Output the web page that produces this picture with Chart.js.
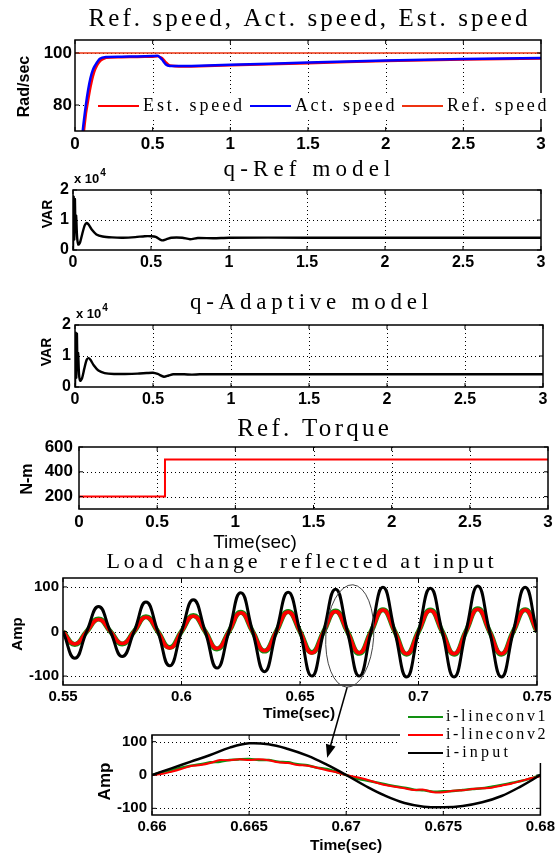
<!DOCTYPE html>
<html>
<head>
<meta charset="utf-8">
<script src="https://cdn.jsdelivr.net/npm/chart.js@4.4.0/dist/chart.umd.min.js"></script>
<style>
  body { margin: 0; background: #fff; }
  #fig { position: relative; width: 558px; height: 854px; overflow: hidden; background: #fff; }
  #fig canvas { position: absolute; left: 0; }
</style>
</head>
<body>
<div id="fig">
  <canvas id="c1" width="558" height="152" style="top:0px"></canvas>
  <canvas id="c2" width="558" height="122" style="top:152px"></canvas>
  <canvas id="c3" width="558" height="136" style="top:274px"></canvas>
  <canvas id="c4" width="558" height="143" style="top:410px"></canvas>
  <canvas id="c5" width="558" height="170" style="top:553px"></canvas>
  <canvas id="c6" width="558" height="301" style="top:553px"></canvas>
</div>
<script>
// ---- data ----
const xTicksLong = [0, 0.5, 1, 1.5, 2, 2.5, 3];

// speed (rad/sec)
const speedTime = [0, 0.03, 0.05, 0.07, 0.085, 0.1, 0.115, 0.13, 0.16, 0.2, 0.3, 0.4, 0.5, 0.535, 0.56, 0.585, 0.61, 0.7, 0.8, 1.0, 1.5, 2.0, 2.5, 3.0];
const actSpeed = [0, 45, 70, 80, 86, 90.5, 93.5, 95.3, 97.8, 98.5, 98.6, 98.7, 98.8, 98.9, 97.5, 95.6, 95.0, 95.0, 95.1, 95.5, 96.3, 97.1, 97.7, 98.1];
const estSpeed = [0, 40, 65, 76.5, 82, 87, 91, 93.8, 96.8, 98.2, 98.4, 98.5, 98.6, 98.7, 98.1, 96.4, 95.2, 94.8, 94.9, 95.3, 96.1, 96.9, 97.5, 97.9];
const refTime = [0, 3];
const refSpeed = [100, 100];
const speedTicks = [80, 100];

// reactive power (x 10^4 VAR)
const qTime = [0, 0.004, 0.008, 0.012, 0.016, 0.02, 0.026, 0.034, 0.045, 0.06, 0.075, 0.088, 0.1, 0.12, 0.15, 0.19, 0.25, 0.32, 0.4, 0.46, 0.5, 0.53, 0.57, 0.6, 0.63, 0.7, 0.75, 0.8, 0.9, 1.0, 1.5, 2.0, 2.5, 3.0];
const qRef = [0, 1.78, 0.35, 1.7, 0.6, 1.15, 0.45, 0.18, 0.25, 0.55, 0.82, 0.9, 0.85, 0.68, 0.52, 0.45, 0.42, 0.41, 0.43, 0.46, 0.46, 0.44, 0.32, 0.36, 0.41, 0.41, 0.36, 0.4, 0.39, 0.41, 0.41, 0.41, 0.41, 0.41];
const qAdapt = [0, 1.75, 0.3, 1.72, 0.55, 1.1, 0.4, 0.2, 0.28, 0.6, 0.88, 0.93, 0.87, 0.7, 0.53, 0.45, 0.42, 0.42, 0.43, 0.45, 0.46, 0.42, 0.33, 0.37, 0.41, 0.41, 0.4, 0.41, 0.41, 0.41, 0.41, 0.41, 0.41, 0.41];
const qTicks = [0, 1, 2];

// reference torque (N-m)
const torqueTime = [0, 0.55, 0.55, 3];
const torque = [200, 200, 500, 500];
const torqueTicks = [200, 400, 600];

// currents 0.55 .. 0.75 s
const loadTime = [0.55, 0.555, 0.56, 0.565, 0.57, 0.575, 0.58, 0.585, 0.59, 0.595, 0.6, 0.605, 0.61, 0.615, 0.62, 0.625, 0.63, 0.635, 0.64, 0.645, 0.65, 0.655, 0.66, 0.665, 0.67, 0.675, 0.68, 0.685, 0.69, 0.695, 0.7, 0.705, 0.71, 0.715, 0.72, 0.725, 0.73, 0.735, 0.74, 0.745, 0.75];
const inputLoad = [0, -60, 0, 56, 0, -56, 0, 66, 0, -77, 0, 71, 0, -82, 0, 87, 0, -90, 0, 88, 0, -100, 0, 95, 0, -100, 0, 99, 0, -102, 0, 97, 0, -102, 0, 102, 0, -102, 0, 99, 0];
const conv2Load = [0, -28, 0, 27, 0, -27, 0, 32, 0, -37, 0, 35, 0, -38, 0, 42, 0, -43, 0, 44, 0, -48, 0, 45, 0, -48, 0, 48, 0, -50, 0, 47, 0, -50, 0, 50, 0, -50, 0, 48, 0];
const conv1Load = [0, -29, 0, 28, 0, -28, 0, 33, 0, -36, 0, 36, 0, -39, 0, 43, 0, -44, 0, 45, 0, -47, 0, 46, 0, -49, 0, 49, 0, -51, 0, 48, 0, -51, 0, 51, 0, -51, 0, 49, 0];
const loadTicks = [0.55, 0.6, 0.65, 0.7, 0.75];
const ampTicks = [-100, 0, 100];

// zoom 0.66 .. 0.68 s
const zoomTimeIn = [0.66, 0.661, 0.662, 0.663, 0.664, 0.665, 0.666, 0.667, 0.668, 0.669, 0.67, 0.671, 0.672, 0.673, 0.674, 0.675, 0.676, 0.677, 0.678, 0.679, 0.68];
const inputZoom = [0, 20, 40, 60, 82, 95, 92, 78, 58, 31, 0, -33, -62, -84, -95, -97, -93, -82, -63, -34, 0];
const zoomTime = [0.66, 0.6605, 0.661, 0.6615, 0.662, 0.6625, 0.663, 0.6635, 0.664, 0.6645, 0.665, 0.6655, 0.666, 0.6665, 0.667, 0.6675, 0.668, 0.6685, 0.669, 0.6695, 0.67, 0.6705, 0.671, 0.6715, 0.672, 0.6725, 0.673, 0.6735, 0.674, 0.6745, 0.675, 0.6755, 0.676, 0.6765, 0.677, 0.6775, 0.678, 0.6785, 0.679, 0.6795, 0.68];
const conv1Zoom = [0, 8, 14, 22, 28, 32, 38, 40, 45, 47, 48, 45, 45, 40, 38, 32, 29, 22, 18, 9, 0, -10, -16, -22, -28, -34, -38, -44, -46, -50, -49, -48, -45, -42, -40, -35, -30, -24, -18, -10, 0];
const conv2Zoom = [0, 3, 10, 18, 27, 30, 36, 45, 44, 47, 45, 47, 44, 38, 36, 30, 28, 22, 14, 8, 0, -6, -13, -22, -30, -35, -40, -45, -44, -52, -52, -47, -46, -42, -40, -38, -32, -26, -18, -10, -4];
const zoomTicks = [0.66, 0.665, 0.67, 0.675, 0.68];

const SANS = '"Liberation Sans", Arial, sans-serif';
const SERIF = '"Liberation Serif", "DejaVu Serif", serif';

function pts(xs, ys) {
  return xs.map((x, i) => ({ x: x, y: ys[i] }));
}

function line(label, xs, ys, color, width, order, tension) {
  return {
    label: label,
    data: pts(xs, ys),
    borderColor: color,
    borderWidth: width,
    order: order,
    tension: tension,
    pointRadius: 0,
    fill: false
  };
}

// serif text spread out to a fixed width, like the wide monospace of the original
function spacedText(ctx, text, x, y, width) {
  const w0 = ctx.measureText(text).width;
  if ('letterSpacing' in ctx) {
    const ls = (width - w0) / text.length;
    ctx.letterSpacing = ls + 'px';
    ctx.fillText(text, x + (ctx.textAlign === 'center' ? ls / 2 : 0), y);
    ctx.letterSpacing = '0px';
  } else {
    ctx.save();
    ctx.translate(x, y);
    ctx.scale(width / w0, 1);
    ctx.fillText(text, 0, 0);
    ctx.restore();
  }
}

// MATLAB style box, dotted grid, titles, labels, legend
const decor = {
  id: 'decor',
  beforeDatasetsDraw(chart, args, o) {
    const { ctx, chartArea: a, scales } = chart;
    ctx.save();
    ctx.strokeStyle = '#000';
    ctx.lineWidth = 1;
    ctx.setLineDash([1, 3]);
    ctx.beginPath();
    scales.x.ticks.forEach(t => {
      const p = Math.round(scales.x.getPixelForValue(t.value)) + 0.5;
      if (p > a.left + 2 && p < a.right - 2) { ctx.moveTo(p, a.top); ctx.lineTo(p, a.bottom); }
    });
    scales.y.ticks.forEach(t => {
      const p = Math.round(scales.y.getPixelForValue(t.value)) + 0.5;
      if (p > a.top + 2 && p < a.bottom - 2) { ctx.moveTo(a.left, p); ctx.lineTo(a.right, p); }
    });
    ctx.stroke();
    ctx.restore();
  },
  afterDatasetsDraw(chart, args, o) {
    const { ctx, chartArea: a, scales } = chart;
    ctx.save();
    ctx.strokeStyle = '#000';
    ctx.lineWidth = 1.5;
    ctx.strokeRect(a.left, a.top, a.right - a.left, a.bottom - a.top);
    ctx.lineWidth = 1;
    ctx.beginPath();
    scales.x.ticks.forEach(t => {
      const p = scales.x.getPixelForValue(t.value);
      ctx.moveTo(p, a.bottom); ctx.lineTo(p, a.bottom - 4);
      ctx.moveTo(p, a.top); ctx.lineTo(p, a.top + 4);
    });
    scales.y.ticks.forEach(t => {
      const p = scales.y.getPixelForValue(t.value);
      ctx.moveTo(a.left, p); ctx.lineTo(a.left + 4, p);
      ctx.moveTo(a.right, p); ctx.lineTo(a.right - 4, p);
    });
    ctx.stroke();

    if (o.ellipse) {
      const e = o.ellipse;
      const cx = scales.x.getPixelForValue(e.x);
      const cy = scales.y.getPixelForValue(e.y);
      const rx = Math.abs(scales.x.getPixelForValue(e.x + e.rx) - cx);
      const ry = Math.abs(scales.y.getPixelForValue(e.y + e.ry) - cy);
      ctx.strokeStyle = '#444';
      ctx.lineWidth = 1;
      ctx.beginPath();
      ctx.ellipse(cx, cy, rx, ry, e.rot, 0, Math.PI * 2);
      ctx.stroke();
    }
    ctx.restore();
  },
  afterDraw(chart, args, o) {
    const ctx = chart.ctx;
    ctx.save();
    ctx.translate(0, -o.top);
    ctx.fillStyle = '#000';
    ctx.textAlign = 'center';
    ctx.textBaseline = 'middle';

    if (o.title) {
      const t = o.title;
      ctx.font = t.size + 'px ' + SERIF;
      if (t.bg) {
        ctx.fillStyle = '#fff';
        ctx.fillRect(t.x - t.width / 2, o.top, t.width, t.y - o.top + 9);
        ctx.fillStyle = '#000';
      }
      spacedText(ctx, t.text, t.x, t.y, t.width);
    }
    if (o.yLabel) {
      const t = o.yLabel;
      ctx.save();
      ctx.font = 'bold ' + t.size + 'px ' + SANS;
      ctx.translate(t.x, t.y);
      ctx.rotate(-Math.PI / 2);
      ctx.fillText(t.text, 0, 0);
      ctx.restore();
    }
    if (o.xLabel) {
      const t = o.xLabel;
      ctx.font = (t.bold ? 'bold ' : '') + t.size + 'px ' + SANS;
      ctx.fillText(t.text, t.x, t.y);
    }
    if (o.exponent) {
      const t = o.exponent;
      ctx.textAlign = 'left';
      ctx.textBaseline = 'alphabetic';
      ctx.font = 'bold 13px ' + SANS;
      ctx.fillText('x 10', t.x, t.y);
      const w = ctx.measureText('x 10').width;
      ctx.font = 'bold 10px ' + SANS;
      ctx.fillText('4', t.x + w + 1, t.y - 7);
      ctx.textAlign = 'center';
      ctx.textBaseline = 'middle';
    }
    if (o.legend) {
      const lg = o.legend;
      ctx.fillStyle = '#fff';
      ctx.fillRect(lg.box[0], lg.box[1], lg.box[2], lg.box[3]);
      ctx.font = lg.size + 'px ' + SERIF;
      ctx.textAlign = 'left';
      let x = lg.x, y = lg.y;
      chart.data.datasets.forEach(ds => {
        ctx.strokeStyle = ds.borderColor;
        ctx.lineWidth = 2;
        ctx.beginPath();
        ctx.moveTo(x, y);
        ctx.lineTo(x + lg.line, y);
        ctx.stroke();
        ctx.fillStyle = '#000';
        const tw = ds.label.length * lg.adv;
        spacedText(ctx, ds.label, x + lg.line + lg.gap, y, tw);
        if (lg.horizontal) x += lg.line + lg.gap + tw + lg.step;
        else y += lg.step;
      });
    }
    ctx.restore();

    // arrow from the circled region of the load plot down to the zoomed plot
    if (o.arrow && window.loadChart) {
      const src = window.loadChart.scales;
      const x0 = src.x.getPixelForValue(o.arrow.from[0]);
      const y0 = src.y.getPixelForValue(o.arrow.from[1]);
      const x1 = chart.scales.x.getPixelForValue(o.arrow.to[0]);
      const y1 = chart.scales.y.getPixelForValue(o.arrow.to[1]);
      const ang = Math.atan2(y1 - y0, x1 - x0);
      ctx.save();
      ctx.strokeStyle = '#000';
      ctx.fillStyle = '#000';
      ctx.lineWidth = 1.5;
      ctx.beginPath();
      ctx.moveTo(x0, y0);
      ctx.lineTo(x1 - 10 * Math.cos(ang), y1 - 10 * Math.sin(ang));
      ctx.stroke();
      ctx.beginPath();
      ctx.moveTo(x1, y1);
      ctx.lineTo(x1 - 13 * Math.cos(ang) + 5 * Math.sin(ang), y1 - 13 * Math.sin(ang) - 5 * Math.cos(ang));
      ctx.lineTo(x1 - 13 * Math.cos(ang) - 5 * Math.sin(ang), y1 - 13 * Math.sin(ang) + 5 * Math.cos(ang));
      ctx.closePath();
      ctx.fill();
      ctx.restore();
    }
  }
};

// box: canvas top/height and plot edges in page pixels
function panel(id, box, datasets, xr, yr, deco) {
  deco.top = box.top;
  const tickFont = { family: SANS, weight: 'bold', size: box.font };
  return new Chart(document.getElementById(id), {
    type: 'line',
    data: { datasets: datasets },
    options: {
      responsive: false,
      animation: false,
      events: [],
      layout: { padding: { left: 0, right: 558 - box.r, top: box.t - box.top, bottom: 0 } },
      plugins: { legend: { display: false }, tooltip: { enabled: false }, decor: deco },
      scales: {
        x: {
          type: 'linear',
          min: xr.min,
          max: xr.max,
          afterBuildTicks: s => { s.ticks = xr.ticks.map(v => ({ value: v })); },
          afterFit: s => { s.height = box.top + box.h - box.b; },
          grid: { display: false, drawTicks: false, tickLength: 0 },
          border: { display: false },
          ticks: { font: tickFont, color: '#000', padding: 3, maxRotation: 0, autoSkip: false, callback: v => String(v) }
        },
        y: {
          type: 'linear',
          min: yr.min,
          max: yr.max,
          afterBuildTicks: s => { s.ticks = yr.ticks.map(v => ({ value: v })); },
          afterFit: s => { s.width = box.l; },
          grid: { display: false, drawTicks: false, tickLength: 0 },
          border: { display: false },
          ticks: { font: tickFont, color: '#000', padding: box.pad, autoSkip: false, callback: v => String(v) }
        }
      }
    },
    plugins: [decor]
  });
}

panel('c1', { top: 0, h: 152, l: 75, r: 541, t: 40, b: 131, font: 17, pad: 3 }, [
  line('Est. speed', speedTime, estSpeed, '#ff0000', 2.5, 3, 0.2),
  line('Act. speed', speedTime, actSpeed, '#0000ff', 2.5, 2, 0.2),
  line('Ref. speed', refTime, refSpeed, '#ee3311', 1.5, 1, 0)
], { min: 0, max: 3, ticks: xTicksLong }, { min: 70, max: 105, ticks: speedTicks }, {
  title: { text: 'Ref. speed, Act. speed, Est. speed', x: 308, y: 19, size: 25, width: 442 },
  yLabel: { text: 'Rad/sec', x: 25, y: 86.5, size: 16 },
  legend: { horizontal: true, box: [91, 93, 457, 26], x: 98, y: 106, line: 41, gap: 4, step: 5, size: 18, adv: 10.2 }
});

panel('c2', { top: 152, h: 122, l: 73, r: 541, t: 190, b: 250, font: 16, pad: 4 }, [
  line('q-Ref', qTime, qRef, '#000', 2.4, 1, 0.25)
], { min: 0, max: 3, ticks: xTicksLong }, { min: 0, max: 2, ticks: qTicks }, {
  title: { text: 'q-Ref model', x: 307, y: 170, size: 23, width: 172 },
  yLabel: { text: 'VAR', x: 48, y: 214, size: 14 },
  exponent: { x: 74, y: 183 }
});

panel('c3', { top: 274, h: 136, l: 75, r: 543, t: 325, b: 387, font: 16, pad: 4 }, [
  line('q-Adaptive', qTime, qAdapt, '#000', 2.4, 1, 0.25)
], { min: 0, max: 3, ticks: xTicksLong }, { min: 0, max: 2, ticks: qTicks }, {
  title: { text: 'q-Adaptive model', x: 309, y: 303, size: 23, width: 243 },
  yLabel: { text: 'VAR', x: 47, y: 352, size: 14 },
  exponent: { x: 76, y: 318 }
});

panel('c4', { top: 410, h: 143, l: 79, r: 548, t: 447, b: 509, font: 17, pad: 6 }, [
  line('Ref. Torque', torqueTime, torque, '#ff0000', 2, 1, 0)
], { min: 0, max: 3, ticks: xTicksLong }, { min: 100, max: 600, ticks: torqueTicks }, {
  title: { text: 'Ref. Torque', x: 313, y: 429, size: 25, width: 155 },
  yLabel: { text: 'N-m', x: 27.5, y: 479, size: 16 },
  xLabel: { text: 'Time(sec)', x: 255, y: 543, size: 19, bold: false }
});

window.loadChart = panel('c5', { top: 553, h: 170, l: 63, r: 537, t: 578, b: 685, font: 15, pad: 4 }, [
  line('i-lineconv1', loadTime, conv1Load, '#129012', 5, 3, 0.5),
  line('i-lineconv2', loadTime, conv2Load, '#ff0000', 3.5, 2, 0.5),
  line('i-input', loadTime, inputLoad, '#000', 3, 1, 0.5)
], { min: 0.55, max: 0.75, ticks: loadTicks }, { min: -120, max: 120, ticks: ampTicks }, {
  title: { text: 'Load change  reflected at input', x: 300, y: 562, size: 22, width: 391, bg: true },
  yLabel: { text: 'Amp', x: 17.5, y: 634, size: 15 },
  xLabel: { text: 'Time(sec)', x: 299, y: 714, size: 15.5, bold: true },
  ellipse: { x: 0.671, y: -10, rx: 0.0101, ry: 115, rot: 0.06 }
});

panel('c6', { top: 553, h: 301, l: 152, r: 542, t: 735, b: 815, font: 15, pad: 5 }, [
  line('i-lineconv1', zoomTime, conv1Zoom, '#129012', 2.5, 3, 0.3),
  line('i-lineconv2', zoomTime, conv2Zoom, '#ff0000', 2, 2, 0.3),
  line('i-input', zoomTimeIn, inputZoom, '#000', 2.5, 1, 0.4)
], { min: 0.66, max: 0.68, ticks: zoomTicks }, { min: -120, max: 120, ticks: ampTicks }, {
  yLabel: { text: 'Amp', x: 105.5, y: 781.5, size: 17 },
  xLabel: { text: 'Time(sec)', x: 346, y: 846, size: 15.5, bold: true },
  legend: { horizontal: false, box: [400, 710, 158, 53], x: 408, y: 717, line: 35, gap: 3, step: 18, size: 16, adv: 9.3 },
  arrow: { from: [0.6699, -125], to: [0.66902, 52] }
});
</script>
</body>
</html>
